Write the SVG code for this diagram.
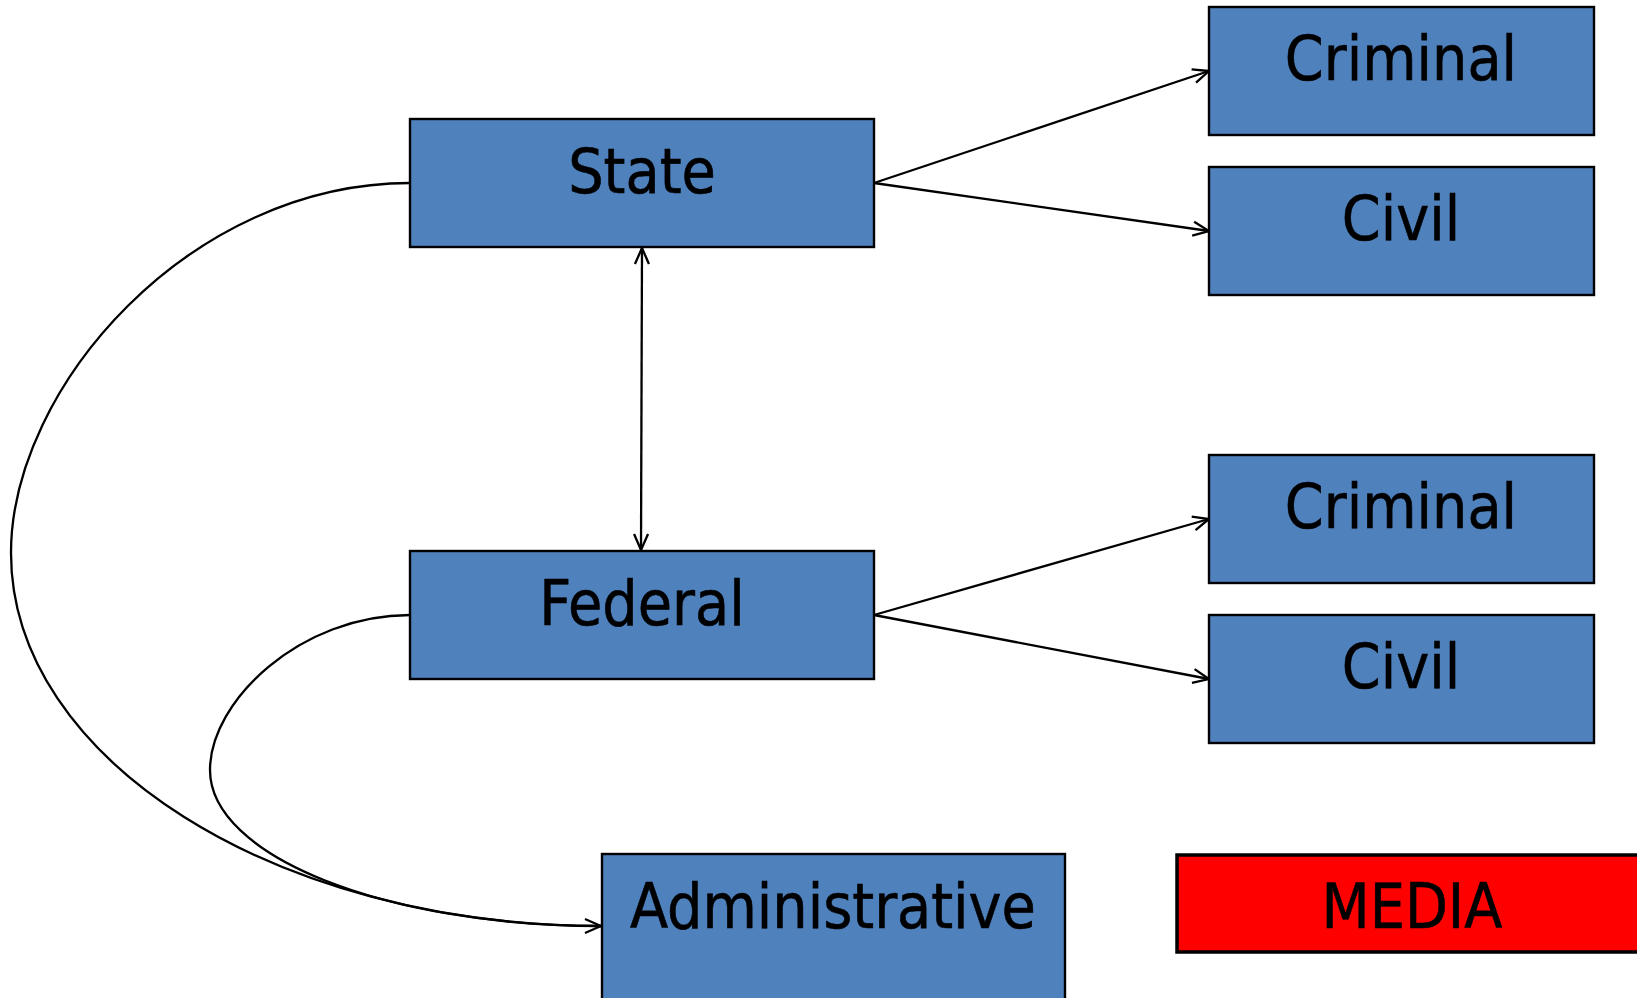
<svg xmlns="http://www.w3.org/2000/svg" width="1637" height="998" viewBox="0 0 1637 998">
<defs>
<marker id="arr" markerUnits="userSpaceOnUse" markerWidth="18" markerHeight="18" viewBox="0 0 18 18" refX="17" refY="9" orient="auto-start-reverse">
<path d="M1,2 L17,9 L1,16" fill="none" stroke="#000" stroke-width="2.3"/>
</marker>
<style>
.box{fill:#4F81BD;stroke:#000;stroke-width:2.4}
.media{fill:#FF0000;stroke:#000;stroke-width:3.5}
.lbl{font-family:"DejaVu Sans Condensed","DejaVu Sans",sans-serif;font-size:62px;fill:#000;stroke:#000;stroke-width:0.6;text-anchor:middle}
.ln{fill:none;stroke:#000;stroke-width:2.3}
</style>
</defs>
<rect width="1637" height="998" fill="#fff"/>
<g id="connectors">
<path class="ln" d="M874,183 L1209,71" marker-end="url(#arr)"/>
<path class="ln" d="M874,183 L1209,231" marker-end="url(#arr)"/>
<path class="ln" d="M874,615 L1209,519" marker-end="url(#arr)"/>
<path class="ln" d="M874,615 L1209,679" marker-end="url(#arr)"/>
<path class="ln" d="M642,248 L641,550" marker-start="url(#arr)" marker-end="url(#arr)"/>
<path class="ln" d="M410,183 C190,183 11,387 11,553 C11,759 275,926 601,926" marker-end="url(#arr)"/>
<path class="ln" d="M410,615 C300,615 210,701 210,770 C210,856 385,926 601,926"/>
</g>
<g id="state"><rect class="box" x="410" y="119" width="464" height="128"/><text class="lbl" x="642" y="193">State</text></g>
<g id="criminal-state"><rect class="box" x="1209" y="7" width="385" height="128"/><text class="lbl" x="1401" y="80">Criminal</text></g>
<g id="civil-state"><rect class="box" x="1209" y="167" width="385" height="128"/><text class="lbl" x="1401" y="240">Civil</text></g>
<g id="federal"><rect class="box" x="410" y="551" width="464" height="128"/><text class="lbl" x="642" y="625">Federal</text></g>
<g id="criminal-federal"><rect class="box" x="1209" y="455" width="385" height="128"/><text class="lbl" x="1401" y="528">Criminal</text></g>
<g id="civil-federal"><rect class="box" x="1209" y="615" width="385" height="128"/><text class="lbl" x="1401" y="688">Civil</text></g>
<g id="administrative"><rect class="box" x="602" y="854" width="463" height="160"/><text class="lbl" x="833" y="928">Administrative</text></g>
<g id="media"><rect class="media" x="1177" y="855" width="470" height="97"/><text class="lbl" x="1412" y="928">MEDIA</text></g>
</svg>
